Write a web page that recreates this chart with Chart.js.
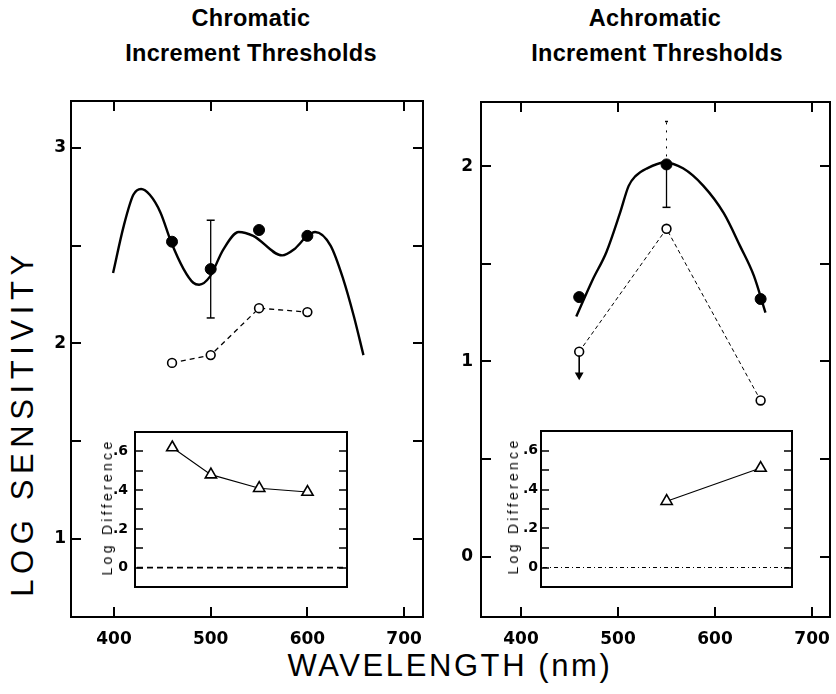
<!DOCTYPE html>
<html><head><meta charset="utf-8">
<script src="https://cdn.jsdelivr.net/npm/chart.js@4.4.1/dist/chart.umd.min.js"></script>
<style>
html,body{margin:0;padding:0;background:#fff;}
body{width:836px;height:694px;position:relative;overflow:hidden;font-family:'Liberation Sans',Arial,sans-serif;}
canvas{position:absolute;}
.t{position:absolute;white-space:nowrap;line-height:1;transform:translate(-50%,-50%);color:#000;}
.title{font-weight:bold;font-size:23.5px;letter-spacing:0.3px;}
.panel{font-weight:bold;font-size:16px;font-family:'DejaVu Sans',sans-serif;}
.axis{font-size:31px;font-weight:normal;}
.diff{font-size:14px;letter-spacing:3.3px;transform:translate(-50%,-50%) rotate(-90deg);}
</style></head><body>
<div class="t title" style="left:251px;top:19px">Chromatic</div>
<div class="t title" style="left:251px;top:54px">Increment Thresholds</div>
<div class="t title" style="left:655px;top:19px">Achromatic</div>
<div class="t title" style="left:657px;top:54px">Increment Thresholds</div>
<div class="t panel" style="left:386px;top:138px">A.</div>
<div class="t panel" style="left:803px;top:136px">B.</div>
<div class="t axis" style="left:450px;top:665px;letter-spacing:2.6px">WAVELENGTH (nm)</div>
<div class="t axis" style="left:22px;top:423px;letter-spacing:5.6px;transform:translate(-50%,-50%) rotate(-90deg)">LOG SENSITIVITY</div>

<canvas id="mainA" width="440" height="570" style="left:0px;top:90px"></canvas>
<canvas id="mainB" width="406" height="570" style="left:430px;top:90px"></canvas>
<canvas id="insetA" width="270" height="180" style="left:90px;top:420px"></canvas>
<canvas id="insetB" width="310" height="180" style="left:490px;top:420px"></canvas>
<div class="t diff" style="left:107px;top:507px">Log Difference</div>
<div class="t diff" style="left:513px;top:506px">Log Difference</div>
<script>
// ---- data ----
const wavelengthTicks = [400, 500, 600, 700];
const sensTicksA = [1, 1.5, 2, 2.5, 3];
const sensTicksB = [0, 0.5, 1, 1.5, 2];
const diffTicks = [0, 0.1, 0.2, 0.3, 0.4, 0.5, 0.6];

// Panel A: chromatic
const chromWavelengths = [460, 500, 550, 600];
const chromFilled = [2.52, 2.38, 2.58, 2.55];
const chromOpen = [1.90, 1.94, 2.18, 2.16];
const chromErrorWavelength = 500;
const chromErrorBar = [2.13, 2.63];
const chromCurveWavelengths = [399, 410, 420, 428, 437, 448, 459, 472, 482, 488, 499, 513, 529, 544, 574, 586, 600, 608, 624, 637, 648, 658];
const chromCurve = [2.36, 2.60, 2.76, 2.79, 2.76, 2.67, 2.52, 2.38, 2.31, 2.30, 2.34, 2.48, 2.57, 2.55, 2.45, 2.48, 2.55, 2.57, 2.50, 2.33, 2.14, 1.94];
const chromDifference = [0.62, 0.48, 0.41, 0.39];

// Panel B: achromatic
const achromWavelengths = [460, 550, 647];
const achromFilled = [1.33, 2.01, 1.32];
const achromOpen = [1.05, 1.68, 0.80];
const achromErrorWavelength = 550;
const achromErrorLower = [2.01, 1.79];
const achromErrorUpper = [2.01, 2.23];
const achromArrowWavelength = 460;
const achromArrow = [1.03, 0.93];
const achromCurveWavelengths = [457, 474, 488, 502, 511, 518, 530, 548, 567, 588, 609, 626, 640, 652];
const achromCurve = [1.23, 1.42, 1.56, 1.76, 1.90, 1.95, 1.99, 2.02, 1.99, 1.90, 1.76, 1.59, 1.44, 1.25];
const achromDiffWavelengths = [550, 647];
const achromDifference = [0.34, 0.51];

// ---- helpers ----
const pts = (xs, ys) => xs.map((x, i) => ({x, y: ys[i]}));
const vert = (x, ys) => ys.map(y => ({x, y}));
const zeroPad = s => { s.paddingTop = 0; s.paddingBottom = 0; s.paddingLeft = 0; s.paddingRight = 0; };

function makeFrame(cfg) {
  return {
    id: 'frameTicks',
    beforeDatasetsDraw(chart) {
      const ctx = chart.ctx, a = chart.chartArea, sx = chart.scales.x, sy = chart.scales.y;
      ctx.save();
      ctx.fillStyle = '#fff';
      ctx.fillRect(a.left, a.top, a.right - a.left, a.bottom - a.top);
      ctx.strokeStyle = '#000';
      ctx.setLineDash([]);
      ctx.lineWidth = cfg.frameWidth;
      ctx.strokeRect(a.left, a.top, a.right - a.left, a.bottom - a.top);
      ctx.lineWidth = cfg.tickWidth;
      const L = cfg.tickLen;
      ctx.beginPath();
      if (cfg.xTicks) {
        for (const t of sx.ticks) {
          const p = Math.round(sx.getPixelForValue(t.value));
          ctx.moveTo(p, a.bottom); ctx.lineTo(p, a.bottom - L);
          ctx.moveTo(p, a.top); ctx.lineTo(p, a.top + L);
        }
      }
      for (const t of sy.ticks) {
        const p = Math.round(sy.getPixelForValue(t.value));
        ctx.moveTo(a.left, p); ctx.lineTo(a.left + L, p);
        ctx.moveTo(a.right, p); ctx.lineTo(a.right - L, p);
      }
      ctx.stroke();
      if (cfg.zeroLine) {
        const z = sy.getPixelForValue(0);
        ctx.setLineDash(cfg.zeroLine.dash);
        ctx.lineWidth = cfg.zeroLine.width;
        ctx.beginPath(); ctx.moveTo(a.left + 2, z); ctx.lineTo(a.right - 2, z); ctx.stroke();
      }
      ctx.restore();
    }
  };
}

const tickFont = {family: 'DejaVu Sans', weight: 'bold', size: 17};
const noGrid = {display: false, drawTicks: false};

function mainConfig(datasets, o) {
  return {
    type: 'line',
    data: {datasets},
    options: {
      responsive: false, animation: false, devicePixelRatio: 1, events: [],
      layout: {autoPadding: false, padding: o.padding},
      plugins: {legend: {display: false}, tooltip: {enabled: false}},
      scales: {
        x: {type: 'linear', min: o.xMin, max: o.xMax,
          afterBuildTicks: s => { s.ticks = wavelengthTicks.map(v => ({value: v})); },
          afterFit: s => { s.height = o.xAxisHeight; zeroPad(s); },
          grid: noGrid, border: {display: false},
          ticks: {color: '#000', font: tickFont, padding: o.xPad, maxRotation: 0, autoSkip: false, callback: v => String(v)}},
        y: {type: 'linear', min: o.yMin, max: o.yMax,
          afterBuildTicks: s => { s.ticks = o.yTicks.map(v => ({value: v})); },
          afterFit: s => { s.width = o.yAxisWidth; zeroPad(s); },
          grid: noGrid, border: {display: false},
          ticks: {color: '#000', font: tickFont, padding: o.yPad, autoSkip: false, callback: v => Number.isInteger(v) ? String(v) : ''}}
      }
    },
    plugins: [makeFrame({tickLen: 10, frameWidth: 2, tickWidth: 2, xTicks: true})]
  };
}

function insetConfig(datasets, o) {
  return {
    type: 'line',
    data: {datasets},
    options: {
      responsive: false, animation: false, devicePixelRatio: 1, events: [],
      layout: {autoPadding: false, padding: o.padding},
      plugins: {legend: {display: false}, tooltip: {enabled: false}},
      scales: {
        x: {type: 'linear', display: false, min: o.xMin, max: o.xMax, afterFit: zeroPad},
        y: {type: 'linear', min: -0.1, max: 0.7,
          afterBuildTicks: s => { s.ticks = diffTicks.map(v => ({value: v})); },
          afterFit: s => { s.width = o.yAxisWidth; zeroPad(s); },
          grid: noGrid, border: {display: false},
          ticks: {color: '#000', font: {family: 'DejaVu Sans', weight: 'bold', size: 14}, padding: o.yPad, autoSkip: false,
            callback: v => {
              const k = Math.round(v * 10);
              if (k % 2 !== 0) return '';
              return k === 0 ? '0' : '.' + k;
            }}}
      }
    },
    plugins: [makeFrame({tickLen: 8, frameWidth: 2, tickWidth: 1.6, xTicks: false, zeroLine: o.zeroLine})]
  };
}

const filledStyle = {showLine: false, pointRadius: 5.5, pointBackgroundColor: '#000', pointBorderColor: '#000', pointBorderWidth: 1};
const openStyle = {showLine: true, borderColor: '#000', borderWidth: 1.3, pointRadius: 4.4, pointBackgroundColor: '#fff', pointBorderColor: '#000', pointBorderWidth: 1.6};
const curveStyle = {showLine: true, borderColor: '#000', borderWidth: 2.4, pointRadius: 0, cubicInterpolationMode: 'monotone', fill: false};

new Chart(document.getElementById('mainA'), mainConfig([
  Object.assign({data: pts(chromWavelengths, chromFilled)}, filledStyle),
  Object.assign({data: pts(chromWavelengths, chromOpen), borderDash: [5, 4]}, openStyle),
  {data: vert(chromErrorWavelength, chromErrorBar), showLine: true, borderColor: '#000', borderWidth: 1.3,
    pointStyle: 'line', pointRadius: 4, pointBorderColor: '#000', pointBorderWidth: 1.5},
  Object.assign({data: pts(chromCurveWavelengths, chromCurve)}, curveStyle)
], {padding: {top: 11, right: 17, left: 0, bottom: 0}, xMin: 355.5, xMax: 719.6, yMin: 0.6, yMax: 3.24,
   yTicks: sensTicksA, xAxisHeight: 43, yAxisWidth: 71, xPad: 12, yPad: 5}));

new Chart(document.getElementById('mainB'), mainConfig([
  Object.assign({data: pts(achromWavelengths, achromFilled)}, filledStyle),
  Object.assign({data: pts(achromWavelengths, achromOpen), borderDash: [4, 3]}, openStyle, {borderWidth: 1}),
  {data: vert(achromErrorWavelength, achromErrorLower), showLine: true, borderColor: '#000', borderWidth: 1.3,
    pointStyle: 'line', pointRadius: [0, 4], pointBorderColor: '#000', pointBorderWidth: 1.5},
  {data: vert(achromErrorWavelength, achromErrorUpper), showLine: true, borderColor: '#000', borderWidth: 1, borderDash: [2, 6],
    pointStyle: 'line', pointRadius: [0, 1.5], pointBorderColor: '#000', pointBorderWidth: 1.5},
  {data: vert(achromArrowWavelength, achromArrow), showLine: true, borderColor: '#000', borderWidth: 1.6,
    pointStyle: 'triangle', rotation: 180, pointRadius: [0, 3.5], pointBackgroundColor: '#000', pointBorderColor: '#000'},
  Object.assign({data: pts(achromCurveWavelengths, achromCurve)}, curveStyle)
], {padding: {top: 12, right: 6, left: 0, bottom: 0}, xMin: 358.8, xMax: 718.5, yMin: -0.31, yMax: 2.33,
   yTicks: sensTicksB, xAxisHeight: 43, yAxisWidth: 51, xPad: 12, yPad: 8}));

const triStyle = {showLine: true, borderColor: '#000', borderWidth: 1.1, pointStyle: 'triangle', pointRadius: 6.5,
  pointBackgroundColor: '#fff', pointBorderColor: '#000', pointBorderWidth: 1.6};

new Chart(document.getElementById('insetA'), insetConfig([
  Object.assign({data: pts(chromWavelengths, chromDifference)}, triStyle)
], {padding: {top: 12, right: 13, left: 0, bottom: 13}, xMin: 421.4, xMax: 640.9, yAxisWidth: 45, yPad: 7,
   zeroLine: {dash: [6, 4], width: 1.8}}));

new Chart(document.getElementById('insetB'), insetConfig([
  Object.assign({data: pts(achromDiffWavelengths, achromDifference)}, triStyle)
], {padding: {top: 11, right: 8, left: 0, bottom: 13}, xMin: 420.3, xMax: 679.4, yAxisWidth: 51, yPad: 3,
   zeroLine: {dash: [4, 3, 1, 3], width: 1}}));
</script>
</body></html>
